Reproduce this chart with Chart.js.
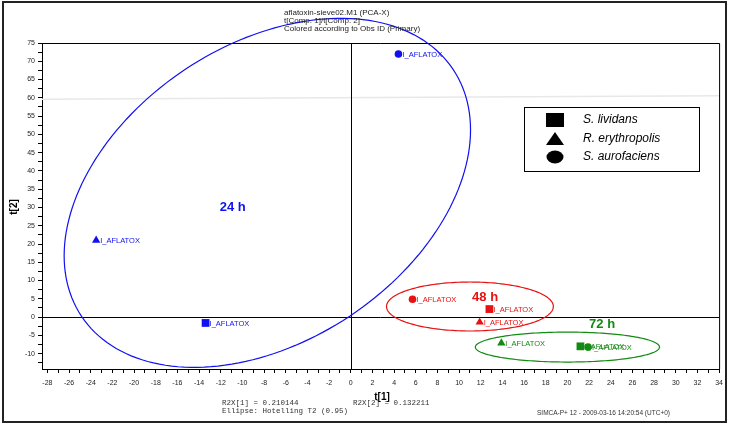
<!DOCTYPE html>
<html>
<head>
<meta charset="utf-8">
<script src="https://cdn.jsdelivr.net/npm/chart.js@4"></script>
<style>
  body { margin: 0; background: #fff; }
  canvas { display: block; }
</style>
</head>
<body>
<canvas id="pcaChart" width="729" height="427"></canvas>
<script>
// --- data ---
const groups = ['24 h', '48 h', '72 h'];
const species = ['S. lividans', 'R. erythropolis', 'S. aurofaciens'];
const obsLabel = 'I_AFLATOX';

// order of every list: lividans (square), erythropolis (triangle), aurofaciens (circle)
const t1_24h = [-13.4, -23.5, 4.4];
const t2_24h = [-1.6, 21.0, 72.0];
const t1_48h = [12.8, 11.9, 5.7];
const t2_48h = [2.2, -1.4, 4.9];
const t1_72h = [21.2, 13.9, 21.9];
const t2_72h = [-8.0, -7.1, -8.2];

// group ellipses: centre and two conjugate half-axes, in score units
const ellCx = [-7.7, 11.0, 20.0];
const ellCy = [34.0, 2.9, -8.2];
const ellUx = [17.4, 7.7, 8.5];
const ellUy = [32.6, 0, 0];
const ellVx = [-7.0, 0, 0];
const ellVy = [34.9, 6.7, 4.1];

// where the group names sit
const groupLabelX = [-10.9, 12.4, 23.2];
const groupLabelY = [29.9, 5.4, -2.0];

const r2x1 = 0.210144;
const r2x2 = 0.132211;

const groupColors = ['#1010f0', '#e81010', '#138a13'];
const markerStyles = ['rect', 'triangle', 'circle'];

function makeSet(i, xs, ys) {
    return {
        label: groups[i],
        data: xs.map((x, k) => ({ x: x, y: ys[k] })),
        pointStyle: markerStyles,
        pointRadius: [5.5, 4.8, 3.8],
        pointHoverRadius: [5.5, 4.8, 3.8],
        backgroundColor: groupColors[i],
        borderColor: groupColors[i],
        borderWidth: 0,
        showLine: false
    };
}

const pcaDecor = {
    id: 'pcaDecor',
    beforeDatasetsDraw(chart) {
        const ctx = chart.ctx;
        const a = chart.chartArea;
        const xs = chart.scales.x;
        const ys = chart.scales.y;
        ctx.save();
        // faint band near 60
        ctx.strokeStyle = '#e8e8e8';
        ctx.lineWidth = 1.5;
        ctx.beginPath();
        ctx.moveTo(a.left, ys.getPixelForValue(59.6));
        ctx.lineTo(a.right, ys.getPixelForValue(60.6));
        ctx.stroke();
        // zero lines
        ctx.strokeStyle = '#000';
        ctx.lineWidth = 1;
        const x0 = Math.round(xs.getPixelForValue(0)) + 0.5;
        const y0 = Math.round(ys.getPixelForValue(0)) + 0.5;
        ctx.beginPath();
        ctx.moveTo(a.left, y0); ctx.lineTo(a.right, y0);
        ctx.moveTo(x0, a.top); ctx.lineTo(x0, a.bottom);
        ctx.stroke();
        // plot frame (top and right)
        ctx.beginPath();
        ctx.moveTo(a.left, a.top + 0.5); ctx.lineTo(a.right + 0.5, a.top + 0.5);
        ctx.lineTo(a.right + 0.5, a.bottom);
        ctx.stroke();
        // ellipses, not clipped
        ctx.lineWidth = 1.2;
        for (let i = 0; i < groups.length; i++) {
            ctx.strokeStyle = groupColors[i];
            ctx.beginPath();
            for (let s = 0; s <= 180; s++) {
                const t = s / 180 * Math.PI * 2;
                const vx = ellCx[i] + ellUx[i] * Math.cos(t) + ellVx[i] * Math.sin(t);
                const vy = ellCy[i] + ellUy[i] * Math.cos(t) + ellVy[i] * Math.sin(t);
                const px = xs.getPixelForValue(vx);
                const py = ys.getPixelForValue(vy);
                if (s === 0) ctx.moveTo(px, py); else ctx.lineTo(px, py);
            }
            ctx.closePath();
            ctx.stroke();
        }
        ctx.restore();
    },
    afterDatasetsDraw(chart) {
        const ctx = chart.ctx;
        const xs = chart.scales.x;
        const ys = chart.scales.y;
        ctx.save();
        // observation labels
        ctx.font = '7.5px "Liberation Sans", Arial, sans-serif';
        ctx.textBaseline = 'middle';
        chart.data.datasets.forEach((ds, i) => {
            ctx.fillStyle = groupColors[i];
            chart.getDatasetMeta(i).data.forEach(el => {
                ctx.fillText(obsLabel, el.x + 4, el.y + 0.5);
            });
        });
        // group names
        ctx.font = 'bold 13px "Liberation Sans", Arial, sans-serif';
        ctx.textAlign = 'center';
        for (let i = 0; i < groups.length; i++) {
            ctx.fillStyle = groupColors[i];
            ctx.fillText(groups[i], xs.getPixelForValue(groupLabelX[i]), ys.getPixelForValue(groupLabelY[i]));
        }
        ctx.restore();
    },
    afterDraw(chart) {
        const ctx = chart.ctx;
        ctx.save();
        // header
        ctx.fillStyle = '#222';
        ctx.font = '8px "Liberation Sans", Arial, sans-serif';
        ctx.textBaseline = 'middle';
        ctx.fillText('aflatoxin-sieve02.M1 (PCA-X)', 284, 13);
        ctx.fillText('t[Comp. 1]/t[Comp. 2]', 284, 21);
        ctx.fillText('Colored according to Obs ID (Primary)', 284, 29);

        // axis titles
        ctx.fillStyle = '#000';
        ctx.font = 'bold 10px "Liberation Sans", Arial, sans-serif';
        ctx.textAlign = 'center';
        ctx.fillText('t[1]', 382, 397);
        ctx.save();
        ctx.translate(14, 207);
        ctx.rotate(-Math.PI / 2);
        ctx.fillText('t[2]', 0, 0);
        ctx.restore();

        // footer
        ctx.textAlign = 'left';
        ctx.fillStyle = '#333';
        ctx.font = '7.5px "Liberation Mono", monospace';
        ctx.fillText('R2X[1] = ' + r2x1.toFixed(6), 222, 403);
        ctx.fillText('R2X[2] = ' + r2x2.toFixed(6), 353, 403);
        ctx.fillText('Ellipse: Hotelling T2 (0.95)', 222, 411);
        ctx.font = '6.5px "Liberation Sans", Arial, sans-serif';
        ctx.fillText('SIMCA-P+ 12 - 2009-03-16 14:20:54 (UTC+0)', 537, 413);

        // legend box
        ctx.strokeStyle = '#000';
        ctx.lineWidth = 1;
        ctx.strokeRect(524.5, 107.5, 175, 64);
        ctx.fillStyle = '#000';
        const mx = 555;
        const rows = [120, 139, 157];
        ctx.fillRect(mx - 9, rows[0] - 7, 18, 14);
        ctx.beginPath();
        ctx.moveTo(mx, rows[1] - 7);
        ctx.lineTo(mx + 9, rows[1] + 6);
        ctx.lineTo(mx - 9, rows[1] + 6);
        ctx.closePath();
        ctx.fill();
        ctx.beginPath();
        ctx.ellipse(mx, rows[2], 8.5, 6.5, 0, 0, Math.PI * 2);
        ctx.fill();
        ctx.font = 'italic 12px "Liberation Sans", Arial, sans-serif';
        species.forEach((s, k) => ctx.fillText(s, 583, rows[k]));

        // outer frame
        ctx.strokeStyle = '#222';
        ctx.lineWidth = 2;
        ctx.strokeRect(3, 2, 723, 420);
        ctx.restore();
    }
};

const tickFont = { family: '"Liberation Sans", Arial, sans-serif', size: 7 };

new Chart(document.getElementById('pcaChart'), {
    type: 'scatter',
    data: {
        datasets: [
            makeSet(0, t1_24h, t2_24h),
            makeSet(1, t1_48h, t2_48h),
            makeSet(2, t1_72h, t2_72h)
        ]
    },
    options: {
        responsive: false,
        animation: false,
        devicePixelRatio: 1,
        layout: { padding: { left: 0, top: 43, right: 9, bottom: 0 } },
        plugins: {
            legend: { display: false },
            tooltip: { enabled: false }
        },
        scales: {
            x: {
                type: 'linear',
                min: -28.5,
                max: 34,
                afterFit: s => { s.height = 58; },
                grid: { drawOnChartArea: false, tickLength: 4, color: '#000' },
                border: { color: '#000', width: 1 },
                ticks: {
                    stepSize: 1,
                    includeBounds: false,
                    autoSkip: false,
                    maxRotation: 0,
                    padding: 6,
                    color: '#222',
                    font: tickFont,
                    callback: v => (v % 2 === 0 ? v : '')
                }
            },
            y: {
                type: 'linear',
                min: -14.2,
                max: 75,
                afterFit: s => { s.width = 42; },
                grid: { drawOnChartArea: false, tickLength: 4, color: '#000' },
                border: { color: '#000', width: 1 },
                ticks: {
                    stepSize: 2.5,
                    includeBounds: false,
                    autoSkip: false,
                    padding: 3,
                    color: '#222',
                    font: tickFont,
                    callback: v => (v % 5 === 0 ? v : '')
                }
            }
        }
    },
    plugins: [pcaDecor]
});
</script>
</body>
</html>
